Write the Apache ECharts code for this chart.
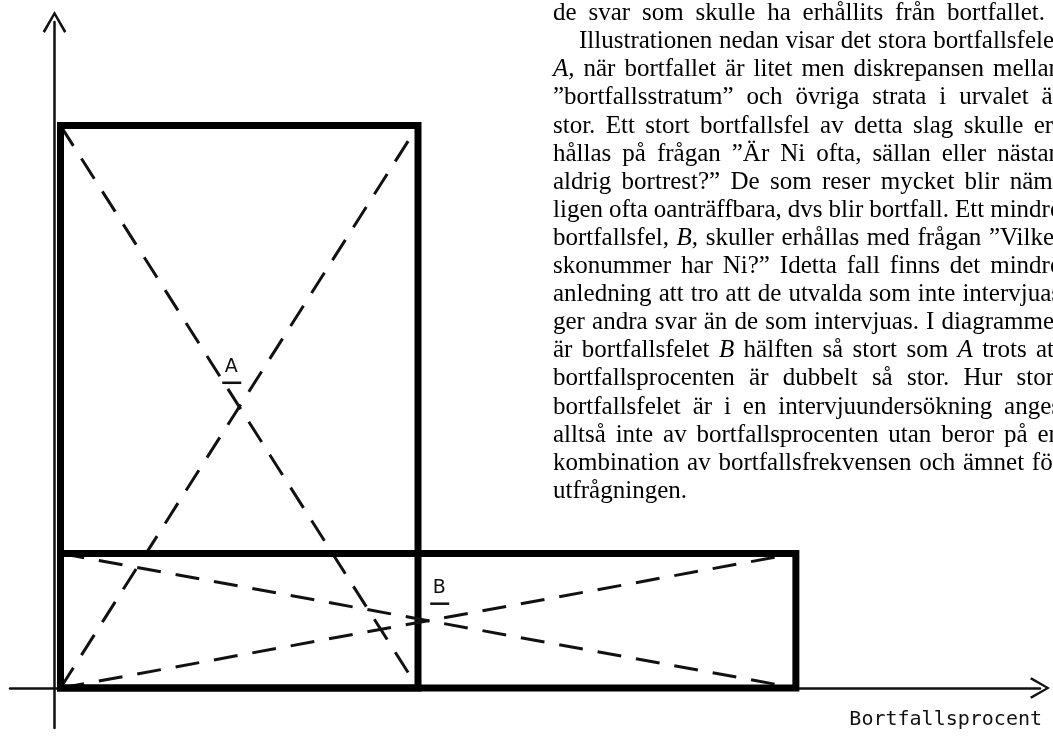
<!DOCTYPE html>
<html>
<head>
<meta charset="utf-8">
<script src="https://cdn.jsdelivr.net/npm/echarts@6/dist/echarts.min.js"></script>
<style>
  html, body { margin: 0; padding: 0; background: #fff; }
  #chart { width: 1053px; height: 737px; }
</style>
</head>
<body>
<div id="chart"></div>
<script>
// Data: two cases, box width = bortfallsprocent,
// box height = discrepancy between non-response and the rest.
const boxNames = ['A', 'B'];
const bortfallsprocent = [10, 20.57];
const diskrepans = [15.71, 3.76];
const xAxisTitle = 'Bortfallsprocent';

const textLines = [
    'de svar som skulle ha erhållits från bortfallet.',
    'Illustrationen nedan visar det stora bortfallsfelet',
    'A, när bortfallet är litet men diskrepansen mellan',
    '”bortfallsstratum” och övriga strata i urvalet är',
    'stor. Ett stort bortfallsfel av detta slag skulle er-',
    'hållas på frågan ”Är Ni ofta, sällan eller nästan',
    'aldrig bortrest?” De som reser mycket blir näm-',
    'ligen ofta oanträffbara, dvs blir bortfall. Ett mindre',
    'bortfallsfel, B, skuller erhållas med frågan ”Vilket',
    'skonummer har Ni?” Idetta fall finns det mindre',
    'anledning att tro att de utvalda som inte intervjuas',
    'ger andra svar än de som intervjuas. I diagrammet',
    'är bortfallsfelet B hälften så stort som A trots att',
    'bortfallsprocenten är dubbelt så stor. Hur stort',
    'bortfallsfelet är i en intervjuundersökning anges',
    'alltså inte av bortfallsprocenten utan beror på en',
    'kombination av bortfallsfrekvensen och ämnet för',
    'utfrågningen.'
];
const italicWords = ['A', 'A,', 'B', 'B,'];

// page layout (pixels)
const W = 1053, H = 737;
const ORIGIN = [60.5, 688];
const PX_X = 35.75, PX_Y = 35.8;
const AXIS_LEFT = 10, AXIS_RIGHT = 1040, AXIS_TOP = 22, AXIS_BOTTOM = 728;
const Y_AXIS_SHIFT = 6;   // the y axis sits a bit left of the boxes
const LABEL_OFFSETS = [[-8, -40], [11, -33]];

const TEXT_FONT = 25;
const TEXT_LEFT = 553, TEXT_INDENT = 579, TEXT_RIGHT = 1061, FIRST_LINE_END = 1045;
const FIRST_BASELINE = 22, LINE_STEP = 28.1;

const xMin = -(ORIGIN[0] - AXIS_LEFT) / PX_X;
const xMax = (AXIS_RIGHT - ORIGIN[0]) / PX_X;
const yMin = -(AXIS_BOTTOM - ORIGIN[1]) / PX_Y;
const yMax = (ORIGIN[1] - AXIS_TOP) / PX_Y;
const xShift = Y_AXIS_SHIFT / PX_X;

const arrow = 'path://M50,0 L100,86 L91,93 L50,20 L9,93 L0,86 Z';

// justified body text, one element per word
function buildText() {
    const ctx = document.createElement('canvas').getContext('2d');
    const fontOf = w => (italicWords.includes(w) ? 'italic ' : '') + TEXT_FONT + 'px "Liberation Serif"';
    const measure = w => { ctx.font = fontOf(w); return ctx.measureText(w).width; };
    const space = measure(' ') || TEXT_FONT * 0.25;
    const els = [];
    textLines.forEach((line, i) => {
        const words = line.split(' ');
        const widths = words.map(measure);
        const total = widths.reduce((a, b) => a + b, 0);
        const start = i === 1 ? TEXT_INDENT : TEXT_LEFT;
        let gap = space;
        if (i === 0) gap = (FIRST_LINE_END - start - total) / (words.length - 1);
        else if (i < textLines.length - 1) gap = (TEXT_RIGHT - start - total) / (words.length - 1);
        const y = FIRST_BASELINE + i * LINE_STEP - 0.3375 * TEXT_FONT;
        let x = start;
        words.forEach((w, k) => {
            els.push({
                type: 'text',
                x: x,
                y: y,
                silent: true,
                style: { text: w, font: fontOf(w), fill: '#000', align: 'left', verticalAlign: 'middle' }
            });
            x += widths[k] + gap;
        });
    });
    return els;
}

const chart = echarts.init(document.getElementById('chart'), null, { renderer: 'canvas' });

const option = {
    backgroundColor: '#fff',
    animation: false,
    grid: {
        left: AXIS_LEFT,
        right: W - AXIS_RIGHT,
        top: AXIS_TOP,
        bottom: H - AXIS_BOTTOM,
        containLabel: false,
        outerBoundsMode: 'none'
    },
    xAxis: [
        {
            type: 'value',
            min: xMin,
            max: xMax,
            name: xAxisTitle,
            nameLocation: 'end',
            nameGap: 2,
            nameTextStyle: {
                fontFamily: 'DejaVu Sans Mono',
                fontSize: 20,
                color: '#111',
                align: 'right',
                verticalAlign: 'top',
                padding: [22, 0, 0, 0]
            },
            axisLine: {
                onZero: true,
                symbol: ['none', arrow],
                symbolSize: [26, 20],
                lineStyle: { color: '#111', width: 2.5 }
            },
            axisTick: { show: false },
            axisLabel: { show: false },
            splitLine: { show: false }
        },
        {
            // helper axis: its zero is where the y axis line is drawn
            type: 'value',
            min: xMin + xShift,
            max: xMax + xShift,
            show: false
        }
    ],
    yAxis: {
        type: 'value',
        min: yMin,
        max: yMax,
        axisLine: {
            onZero: true,
            onZeroAxisIndex: 1,
            symbol: ['none', arrow],
            symbolSize: [28, 22],
            lineStyle: { color: '#111', width: 2.5 }
        },
        axisTick: { show: false },
        axisLabel: { show: false },
        splitLine: { show: false }
    },
    series: [
        {
            type: 'custom',
            xAxisIndex: 0,
            yAxisIndex: 0,
            clip: false,
            silent: true,
            data: boxNames.map((n, i) => [bortfallsprocent[i], diskrepans[i]]),
            encode: { x: 0, y: 1 },
            renderItem: function (params, api) {
                const w = api.value(0);
                const h = api.value(1);
                const p0 = api.coord([0, 0]);
                const p1 = api.coord([w, h]);
                const cx = (p0[0] + p1[0]) / 2;
                const cy = (p0[1] + p1[1]) / 2;
                const off = LABEL_OFFSETS[params.dataIndex];
                const lx = cx + off[0], ly = cy + off[1];
                const dash = { stroke: '#111', lineWidth: 3, lineDash: [24, 15], fill: 'none' };
                return {
                    type: 'group',
                    children: [
                        { type: 'line', shape: { x1: p0[0], y1: p1[1], x2: p1[0], y2: p0[1] }, style: dash },
                        { type: 'line', shape: { x1: p0[0], y1: p0[1], x2: p1[0], y2: p1[1] }, style: dash },
                        {
                            type: 'rect',
                            shape: { x: p0[0], y: p1[1], width: p1[0] - p0[0], height: p0[1] - p1[1] },
                            style: { fill: 'none', stroke: '#000', lineWidth: 7, lineJoin: 'miter' }
                        },
                        {
                            type: 'text',
                            x: lx,
                            y: ly,
                            style: {
                                text: boxNames[params.dataIndex],
                                font: '19px "DejaVu Sans"',
                                fill: '#111',
                                align: 'center',
                                verticalAlign: 'middle'
                            }
                        },
                        {
                            type: 'line',
                            shape: { x1: lx - 9, y1: ly + 16, x2: lx + 10, y2: ly + 16 },
                            style: { stroke: '#111', lineWidth: 2.5 }
                        }
                    ]
                };
            }
        }
    ],
    graphic: { elements: buildText() }
};

chart.setOption(option);

window.addEventListener('resize', () => {
    chart.resize();
});
</script>
</body>
</html>
